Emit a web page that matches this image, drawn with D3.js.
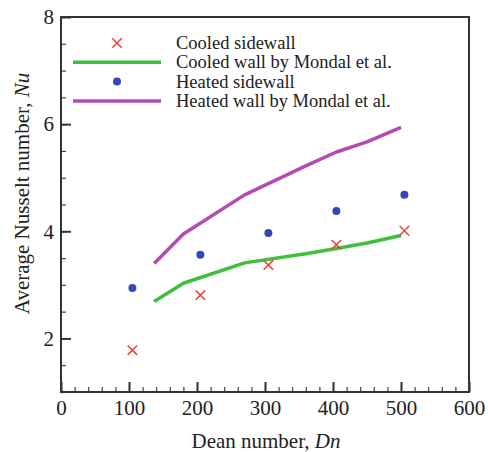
<!DOCTYPE html>
<html>
<head>
<meta charset="utf-8">
<script src="https://cdn.jsdelivr.net/npm/d3@7"></script>
<style>
  body { margin: 0; background: #fff; }
  svg text { font-family: "Liberation Serif", "Times New Roman", serif; fill: #222; }
</style>
</head>
<body>
<div id="chart"></div>
<script>
// measured sidewall values
const dnPoints = [105, 205, 305, 405, 505];
const cooledSide = [1.78, 2.81, 3.37, 3.75, 4.01];
const heatedSide = [2.94, 3.56, 3.97, 4.38, 4.68];

// Mondal et al. curves
const dnCurve = [137, 180, 270, 360, 405, 450, 500];
const cooledMondal = [2.69, 3.03, 3.41, 3.58, 3.68, 3.78, 3.92];
const heatedMondal = [3.40, 3.95, 4.68, 5.22, 5.48, 5.67, 5.94];

const xTicks = [0, 100, 200, 300, 400, 500, 600];
const yTicks = [2, 4, 6, 8];

const legendLabels = ["Cooled sidewall", "Cooled wall by Mondal et al.",
  "Heated sidewall", "Heated wall by Mondal et al."];

const width = 488, height = 452;
const margin = { top: 17, right: 19, bottom: 60, left: 61 };
const serif = "'Liberation Serif', 'Times New Roman', serif";

const red = "#e8473a", green = "#3fbf3a", blue = "#3546b8", magenta = "#b44bb4";

const svg = d3.select("#chart").append("svg")
  .attr("width", width)
  .attr("height", height)
  .attr("font-family", serif);

const x = d3.scaleLinear().domain([0, 600]).range([margin.left, width - margin.right]);
const y = d3.scaleLinear().domain([1, 8]).range([height - margin.bottom, margin.top]);

// minor ticks
svg.append("g")
  .attr("transform", `translate(0,${y(1)})`)
  .call(d3.axisBottom(x).tickValues(d3.range(0, 601, 20)).tickSize(-5).tickFormat(""))
  .call(g => g.select(".domain").remove())
  .selectAll("line").attr("stroke", "#444").attr("stroke-width", 1.2);

svg.append("g")
  .attr("transform", `translate(${x(0)},0)`)
  .call(d3.axisLeft(y).tickValues(d3.range(1, 8.01, 0.5)).tickSize(-5).tickFormat(""))
  .call(g => g.select(".domain").remove())
  .selectAll("line").attr("stroke", "#444").attr("stroke-width", 1.2);

// major ticks + labels
const xAxis = svg.append("g")
  .attr("transform", `translate(0,${y(1)})`)
  .call(d3.axisBottom(x).tickValues(xTicks).tickFormat(d3.format("d")).tickSize(-10).tickPadding(8));
xAxis.attr("font-family", serif);
xAxis.select(".domain").remove();
xAxis.selectAll("line").attr("stroke", "#333").attr("stroke-width", 2);
xAxis.selectAll("text").attr("font-size", 21).attr("fill", "#222");

const yAxis = svg.append("g")
  .attr("transform", `translate(${x(0)},0)`)
  .call(d3.axisLeft(y).tickValues(yTicks).tickFormat(d3.format("d")).tickSize(-10).tickPadding(7));
yAxis.attr("font-family", serif);
yAxis.select(".domain").remove();
yAxis.selectAll("line").attr("stroke", "#333").attr("stroke-width", 2);
yAxis.selectAll("text").attr("font-size", 21).attr("fill", "#222");

// frame
svg.append("rect")
  .attr("x", x(0)).attr("y", y(8))
  .attr("width", x(600) - x(0)).attr("height", y(1) - y(8))
  .attr("fill", "none").attr("stroke", "#333").attr("stroke-width", 2);

// curves
const line = d3.line().x(d => x(d[0])).y(d => y(d[1]));
svg.append("path")
  .datum(dnCurve.map((d, i) => [d, cooledMondal[i]]))
  .attr("d", line).attr("fill", "none").attr("stroke", green).attr("stroke-width", 3.5)
  .attr("stroke-linejoin", "round");
svg.append("path")
  .datum(dnCurve.map((d, i) => [d, heatedMondal[i]]))
  .attr("d", line).attr("fill", "none").attr("stroke", magenta).attr("stroke-width", 3.5)
  .attr("stroke-linejoin", "round");

const cross = d3.symbol().type(d3.symbolX).size(60);

svg.append("g").selectAll("path")
  .data(dnPoints.map((d, i) => [d, cooledSide[i]]))
  .join("path")
  .attr("transform", d => `translate(${x(d[0])},${y(d[1])})`)
  .attr("d", cross)
  .attr("fill", "none").attr("stroke", red).attr("stroke-width", 1.6);

svg.append("g").selectAll("circle")
  .data(dnPoints.map((d, i) => [d, heatedSide[i]]))
  .join("circle")
  .attr("cx", d => x(d[0])).attr("cy", d => y(d[1]))
  .attr("r", 4).attr("fill", blue);

// legend
const legend = svg.append("g").attr("transform", "translate(73,43)");
const rowH = 19.3;
legend.append("path")
  .attr("transform", `translate(44,0)`)
  .attr("d", cross)
  .attr("fill", "none").attr("stroke", red).attr("stroke-width", 1.6);
legend.append("line").attr("x1", 0).attr("x2", 88).attr("y1", rowH).attr("y2", rowH)
  .attr("stroke", green).attr("stroke-width", 3.5);
legend.append("circle").attr("cx", 44).attr("cy", rowH * 2).attr("r", 4).attr("fill", blue);
legend.append("line").attr("x1", 0).attr("x2", 88).attr("y1", rowH * 3).attr("y2", rowH * 3)
  .attr("stroke", magenta).attr("stroke-width", 3.5);
legend.selectAll("text.lab")
  .data(legendLabels)
  .join("text")
  .attr("class", "lab")
  .attr("x", 103).attr("y", (d, i) => i * rowH + 6)
  .attr("font-size", 18.5)
  .text(d => d);

// axis titles
const xt = svg.append("text")
  .attr("x", 266).attr("y", 448)
  .attr("text-anchor", "middle").attr("font-size", 21);
xt.append("tspan").text("Dean number, ");
xt.append("tspan").attr("font-style", "italic").text("Dn");

const yt = svg.append("text")
  .attr("transform", "translate(29,193.5) rotate(-90)")
  .attr("text-anchor", "middle").attr("font-size", 21);
yt.append("tspan").text("Average Nusselt number, ");
yt.append("tspan").attr("font-style", "italic").text("Nu");
</script>
</body>
</html>
